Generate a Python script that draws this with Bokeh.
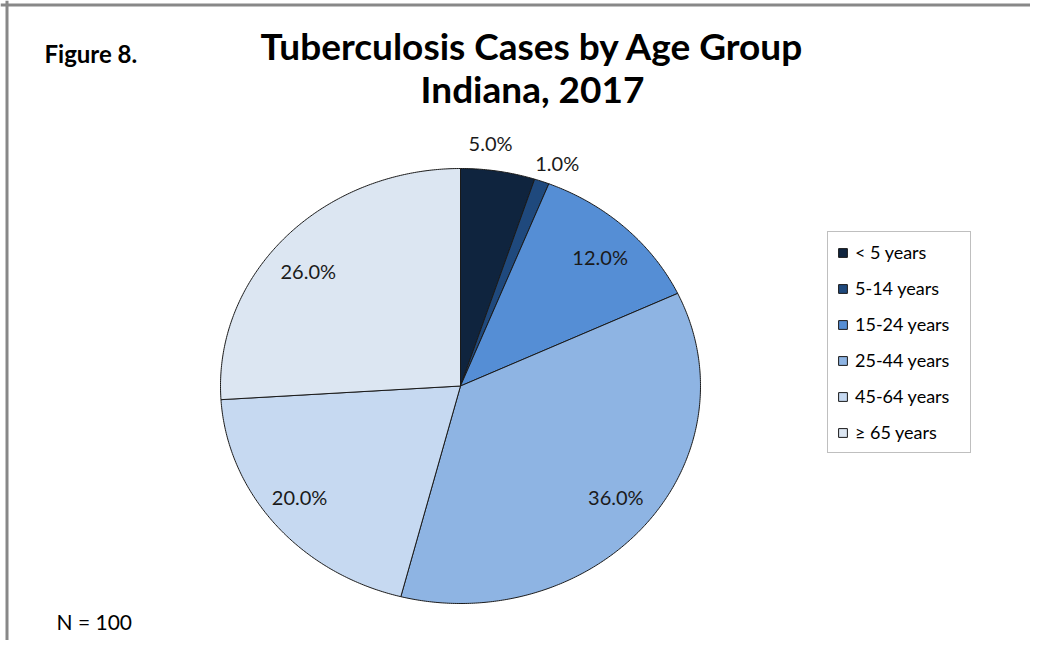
import numpy as np
from bokeh.plotting import figure
from bokeh.models import Range1d, Label, Legend, LegendItem, Span, ColumnDataSource
from bokeh.core.properties import value
from bokeh.embed import file_html
from bokeh.resources import INLINE

# ---- data ----
age_groups = ["< 5 years", "5-14 years", "15-24 years", "25-44 years", "45-64 years", "\u2265 65 years"]
cases = [5, 1, 12, 36, 20, 26]
colors = ["#0F243E", "#1F497D", "#558ED5", "#8EB4E3", "#C6D9F1", "#DCE6F2"]
title_lines = ["Tuberculosis Cases by Age Group", "Indiana, 2017"]
figure_label = "Figure 8."
n_label = "N = 100"

# ---- layout ----
W, H = 1030, 640
FONT = "Lato"
CX, CY, RX, RY = 460, 385.5, 240, 217.5
lbl_fx = [0.80, 1.19, 0.85, 0.84, 0.87, 0.87]
lbl_fy = [1.13, 1.09, 0.815, 0.80, 0.80, 0.77]

p = figure(width=W, height=H, x_range=Range1d(0, W), y_range=Range1d(H, 0),
           output_backend="svg", toolbar_location=None, min_border=0,
           x_axis_location=None, y_axis_location=None, outline_line_color=None)
p.grid.visible = False

total = float(sum(cases))
frac = np.array(cases) / total
ends = np.cumsum(frac) * 2 * np.pi
starts = np.concatenate([[0.0], ends[:-1]])
xs, ys = [], []
for a0, a1 in zip(starts, ends):
    n = max(int((a1 - a0) / (2 * np.pi) * 720), 2) + 1
    t = np.linspace(a0, a1, n)
    xs.append([CX] + list(CX + RX * np.sin(t)))
    ys.append([CY] + list(CY - RY * np.cos(t)))

src = ColumnDataSource(dict(xs=xs, ys=ys, color=colors, label=age_groups))
r = p.patches("xs", "ys", source=src, fill_color="color", line_color="#1a1a1a", line_width=1)

mid = (starts + ends) / 2
lx = CX + RX * np.array(lbl_fx) * np.sin(mid)
ly = CY - RY * np.array(lbl_fy) * np.cos(mid)
pct = [f"{v / total * 100:.1f}%" for v in cases]
lsrc = ColumnDataSource(dict(x=lx, y=ly, t=pct))
p.text("x", "y", text="t", source=lsrc, text_font=value(FONT), text_font_size="20px",
       text_color="#1a1a1a", text_align="center", text_baseline="middle")

# titles
p.add_layout(Label(x=532, y=45, text=title_lines[0], text_font=FONT, text_font_style="bold",
                   text_font_size="37px", text_align="center", text_baseline="alphabetic",
                   text_color="#000000"))
p.add_layout(Label(x=532, y=88, text=title_lines[1], text_font=FONT, text_font_style="bold",
                   text_font_size="37px", text_align="center", text_baseline="alphabetic",
                   text_color="#000000"))
p.add_layout(Label(x=44, y=53, text=figure_label, text_font=FONT, text_font_style="bold",
                   text_font_size="24px", text_align="left", text_baseline="alphabetic",
                   text_color="#000000"))
p.add_layout(Label(x=56, y=621, text=n_label, text_font=FONT,
                   text_font_size="21px", text_align="left", text_baseline="alphabetic",
                   text_color="#000000"))

# frame lines
p.add_layout(Span(location=6.5, dimension="height", line_color="#888888", line_width=3))
p.add_layout(Span(location=4.5, dimension="width", line_color="#888888", line_width=3))

items = [LegendItem(label=g, renderers=[r], index=i) for i, g in enumerate(age_groups)]
legend = Legend(items=items, location=(827, 187), orientation="vertical",
                label_text_font=FONT, label_text_font_size="18px", label_text_color="#000000",
                glyph_width=11, glyph_height=11, label_height=21, label_width=106,
                spacing=14, padding=9,
                label_standoff=7, margin=0, border_line_color="#808080", border_line_width=1,
                background_fill_color="#ffffff", background_fill_alpha=1.0)
p.add_layout(legend)

open("out.html", "w").write(file_html(p, INLINE))
